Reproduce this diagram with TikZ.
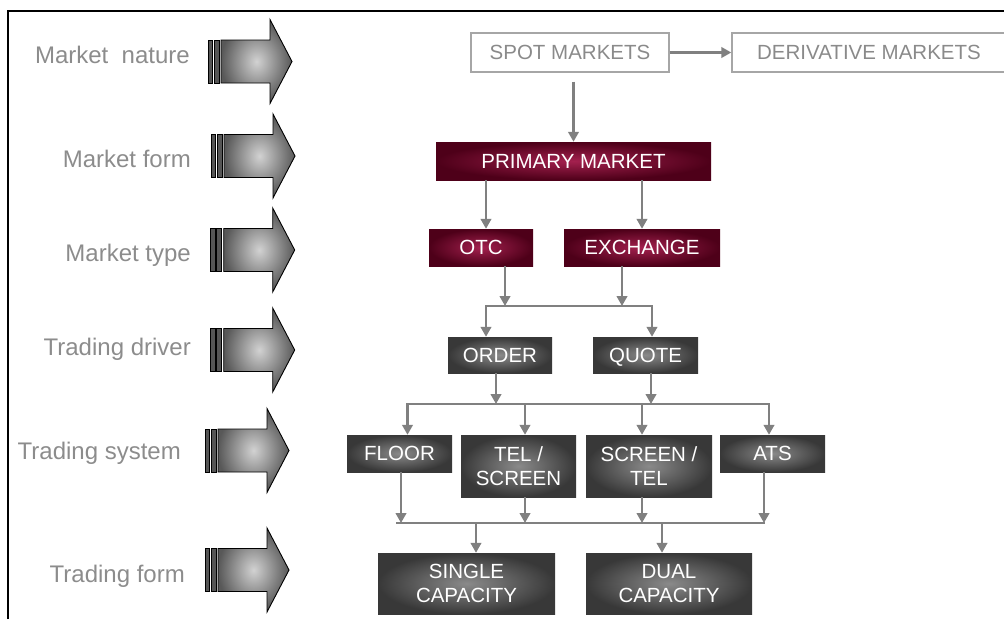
\documentclass[tikz,border=0pt]{standalone}
\usepackage{fontspec}
\setmainfont{Liberation Sans}
\usetikzlibrary{arrows.meta,calc}
\definecolor{lblgray}{HTML}{8C8C8C}
\definecolor{cgray}{HTML}{808080}
\definecolor{crimIn}{HTML}{A3204E}
\definecolor{crimOut}{HTML}{4E0019}
\definecolor{dkIn}{HTML}{8A8A8A}
\definecolor{dkOut}{HTML}{383838}
\definecolor{spotline}{HTML}{A6A6A6}
\definecolor{spottext}{HTML}{8A8A8A}
\definecolor{barfill}{HTML}{555555}
\definecolor{arrIn}{HTML}{D2D2D2}
\definecolor{arrOut}{HTML}{585858}
\newcommand\lblfont{\fontsize{24}{28}\selectfont}
\newcommand\boxfont{\fontsize{20.5}{24.5}\selectfont}
\begin{document}
\begin{tikzpicture}[x=1pt,y=-1pt,
  lbl/.style={text=lblgray, font=\lblfont, inner sep=0pt},
  outlinebox/.style={draw=spotline, line width=1.4pt, text=spottext, font=\boxfont, inner sep=0pt},
  crimbox/.style={inner color=crimIn, outer color=crimOut, text=white, font=\boxfont, inner sep=0pt, align=center},
  darkbox/.style={inner color=dkIn, outer color=dkOut, text=white, font=\boxfont, inner sep=0pt, align=center},
  conn/.style={draw=cgray, line width=2.8pt, -{Triangle[width=10.5pt,length=10pt]}},
  busline/.style={draw=cgray, line width=2.8pt, line cap=rect},
  blockarrow/.pic={
    \draw[black, line width=0.9pt, fill=barfill] (0,-21.5) rectangle (4.5,21.5);
    \draw[black, line width=0.9pt, fill=barfill] (6,-21.5) rectangle (11,21.5);
    \shade[draw=black, line width=0.9pt, inner color=arrIn, outer color=arrOut]
      (13,-21.5) -- (62,-21.5) -- (62,-42) -- (84,0) -- (62,42) -- (62,21.5) -- (13,21.5) -- cycle;
  }
]
\useasboundingbox (0,0) rectangle (1004,619);
% frame
\draw[black, line width=1.3pt] (8,619) -- (8,11) -- (1004,11);

% row labels
\node[lbl, anchor=base east] (l1) at (190,63) {Market~~nature};
\node[lbl, anchor=base east] (l2) at (191,167) {Market form};
\node[lbl, anchor=base east] (l3) at (191,261) {Market type};
\node[lbl, anchor=base east] (l4) at (191,355) {Trading driver};
\node[lbl, anchor=base east] (l5) at (181,459) {Trading system};
\node[lbl, anchor=base east] (l6) at (185,582) {Trading form};

% block arrows
\pic at (208,61.5) {blockarrow};
\pic at (211,156) {blockarrow};
\pic at (210.7,250) {blockarrow};
\pic at (210.7,350) {blockarrow};
\pic at (205,450.5) {blockarrow};
\pic at (205,570) {blockarrow};

% boxes
\node[outlinebox, minimum width=198pt, minimum height=39pt] (spot) at (570,52.5) {SPOT MARKETS};
\node[outlinebox, minimum width=274pt, minimum height=39pt] (deriv) at (869,52.5) {DERIVATIVE MARKETS};
\node[crimbox, minimum width=275pt, minimum height=38pt] (primary) at (573.5,161) {PRIMARY MARKET};
\node[crimbox, minimum width=104pt, minimum height=37pt] (otc) at (481,247.5) {OTC};
\node[crimbox, minimum width=156pt, minimum height=37pt] (exchange) at (642,247.5) {EXCHANGE};
\node[darkbox, minimum width=104pt, minimum height=36pt] (order) at (500,355) {ORDER};
\node[darkbox, minimum width=105pt, minimum height=36pt, text depth=0pt] (quote) at (645.5,355) {QUOTE};
\node[darkbox, minimum width=105pt, minimum height=37pt] (floor) at (399.5,453.5) {FLOOR};
\node[darkbox, minimum width=115pt, minimum height=62pt] (telscreen) at (518.5,466) {TEL /\\SCREEN};
\node[darkbox, minimum width=126pt, minimum height=62pt] (screentel) at (649,466) {SCREEN /\\TEL};
\node[darkbox, minimum width=105pt, minimum height=37pt] (ats) at (772.5,453.5) {ATS};
\node[darkbox, minimum width=177pt, minimum height=61pt] (single) at (466.5,583.5) {SINGLE\\CAPACITY};
\node[darkbox, minimum width=166pt, minimum height=61pt] (dual) at (669,583.5) {DUAL\\CAPACITY};

% bus and junction coordinates
\coordinate (b1L) at (486,306);
\coordinate (b1R) at (652,306);
\coordinate (m1) at (505,306);
\coordinate (m2) at (622,306);
\coordinate (b2L) at (407.5,404);
\coordinate (b2R) at (769,404);
\coordinate (m3) at (496,404);
\coordinate (m4) at (651,404);
\coordinate (m5) at (525,404);
\coordinate (m6) at (642,404);
\coordinate (b3L) at (397,523);
\coordinate (m7) at (401,523);
\coordinate (m8) at (525,523);
\coordinate (m9) at (642,523);
\coordinate (m10) at (764,523);
\coordinate (m11) at (476,523);
\coordinate (m12) at (662,523);

% connectors
\draw[conn] (spot) -- (deriv);
\draw[conn, shorten <=9pt] (spot.south -| primary.north) -- (primary.north);
\draw[conn] (primary.south -| b1L) -- (otc.north -| b1L);
\draw[conn] (primary.south -| exchange.north) -- (exchange.north);

\draw[busline] (b1L) -- (b1R);
\draw[conn] (otc.south -| m1) -- (m1);
\draw[conn] (exchange.south -| m2) -- (m2);
\draw[conn] (b1L) -- (order.north -| b1L);
\draw[conn] (b1R) -- (quote.north -| b1R);

\draw[busline] (b2L) -- (b2R);
\draw[conn] (order.south -| m3) -- (m3);
\draw[conn] (quote.south -| m4) -- (m4);
\draw[conn] (b2L) -- (floor.north -| b2L);
\draw[conn] (m5) -- (telscreen.north -| m5);
\draw[conn] (m6) -- (screentel.north -| m6);
\draw[conn] (b2R) -- (ats.north -| b2R);

\draw[busline] (b3L) -- (m10);
\draw[conn] (floor.south -| m7) -- (m7);
\draw[conn] (telscreen.south -| m8) -- (m8);
\draw[conn] (screentel.south -| m9) -- (m9);
\draw[conn] (ats.south -| m10) -- (m10);
\draw[conn] (m11) -- (single.north -| m11);
\draw[conn] (m12) -- (dual.north -| m12);
\end{tikzpicture}
\end{document}
